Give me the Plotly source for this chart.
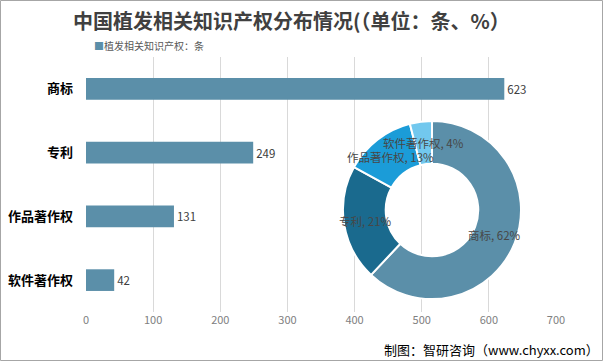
import math
import plotly.graph_objects as go

categories = ["商标", "专利", "作品著作权", "软件著作权"]
bar_values = [623, 249, 131, 42]
pie_labels = ["商标", "专利", "作品著作权", "软件著作权"]
pie_values = [62, 21, 13, 4]
x_ticks = [0, 100, 200, 300, 400, 500, 600, 700]

W, H = 603, 361
L, R, T, B = 86, 47, 57, 49
pw, ph = W - L - R, H - T - B

def px_x(x):
    return (x - L) / pw

def px_y(y):
    return (H - B - y) / ph

FONT = "Noto Sans CJK SC, Microsoft YaHei, sans-serif"
BAR_COLOR = "#5B8FA9"
PIE_COLORS = ["#5B8FA9", "#1A6A8E", "#1B9CD8", "#72C8EE"]

fig = go.Figure()
fig.add_trace(go.Bar(
    y=categories, x=bar_values, orientation="h",
    marker=dict(color=BAR_COLOR, line=dict(width=0)),
    width=0.34,
    text=[str(v) for v in bar_values], textposition="outside",
    textfont=dict(size=11.5, color="#404040", family=FONT),
    cliponaxis=False, showlegend=False,
))

cx, cy, r = 432, 210, 89
hole = 0.52
fig.add_trace(go.Pie(
    labels=pie_labels, values=pie_values,
    hole=hole, sort=False, direction="clockwise", rotation=0,
    marker=dict(colors=PIE_COLORS, line=dict(color="white", width=2)),
    textinfo="none",
    domain=dict(x=[px_x(cx - r), px_x(cx + r)], y=[px_y(cy + r), px_y(cy - r)]),
    showlegend=False,
))

# data labels at mid-angle, mid-ring (computed from the pie values)
total = sum(pie_values)
label_annots = []
cum = 0
rm = r * (1 + hole) / 2
for lab, v in zip(pie_labels, pie_values):
    mid = (cum + v / 2) / total * 2 * math.pi
    cum += v
    lx = cx + rm * math.sin(mid)
    ly = cy - rm * math.cos(mid)
    label_annots.append(dict(
        text="%s, %d%%" % (lab, round(v / total * 100)), x=px_x(lx), y=px_y(ly),
        xref="paper", yref="paper", xanchor="center", yanchor="middle", showarrow=False,
        font=dict(size=11.5, color="#474747", family=FONT)))

fig.update_layout(
    width=W, height=H,
    margin=dict(l=L, r=R, t=T, b=B, autoexpand=False),
    paper_bgcolor="white", plot_bgcolor="white",
    font=dict(family=FONT),
    xaxis=dict(range=[0, 700], tickvals=x_ticks, showgrid=True, gridcolor="#D9D9D9",
               gridwidth=1, zeroline=False, showline=False, automargin=False,
               tickfont=dict(size=11, color="#808080", family=FONT), ticks=""),
    yaxis=dict(categoryorder="array", categoryarray=categories, autorange="reversed",
               tickvals=categories, ticktext=["<b>%s</b>" % c for c in categories],
               showgrid=False, zeroline=False, showline=False, ticks="", automargin=False,
               ticklabelstandoff=12,
               tickfont=dict(size=13, color="#000000", family=FONT)),
    annotations=[
        dict(text="<b>中国植发相关知识产权分布情况(（单位：条、%）</b>", x=px_x(291), y=px_y(20),
             xref="paper", yref="paper", xanchor="center", yanchor="middle", showarrow=False,
             font=dict(size=20, color="#404040", family=FONT)),
        dict(text="<span style='color:%s'>■</span>植发相关知识产权：条" % BAR_COLOR,
             x=px_x(92), y=px_y(46), xref="paper", yref="paper", xanchor="left", yanchor="middle",
             showarrow=False, font=dict(size=10, color="#595959", family=FONT)),
        dict(text="制图：智研咨询（www.chyxx.com）", x=px_x(601), y=px_y(349),
             xref="paper", yref="paper", xanchor="right", yanchor="middle", showarrow=False,
             font=dict(size=13, color="#000000", family=FONT)),
    ] + label_annots,
    shapes=[
        dict(type="rect", xref="paper", yref="paper",
             x0=px_x(0.5), x1=px_x(W - 0.5), y0=px_y(H - 0.5), y1=px_y(0.5),
             line=dict(color="#A6A6A6", width=1), fillcolor="rgba(0,0,0,0)", layer="above"),
    ],
)

fig.write_html("out.html", config={"displayModeBar": False},
               post_script="document.body.style.margin='0';document.body.style.overflow='hidden';")
